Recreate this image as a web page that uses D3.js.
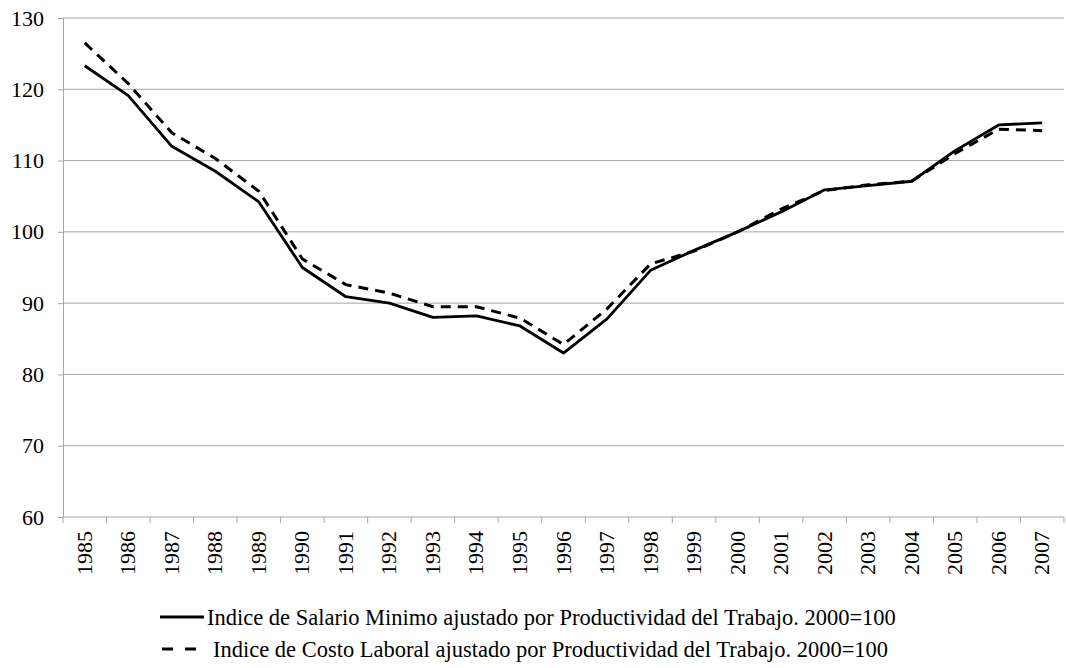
<!DOCTYPE html>
<html>
<head>
<meta charset="utf-8">
<script src="https://cdn.jsdelivr.net/npm/d3@7"></script>
<style>
  body { margin: 0; background: #fff; }
  text { font-family: "Liberation Serif", "Times New Roman", serif; fill: #000; }
</style>
</head>
<body>
<div id="chart"></div>
<script>
// data
var years = ["1985","1986","1987","1988","1989","1990","1991","1992","1993","1994","1995","1996",
             "1997","1998","1999","2000","2001","2002","2003","2004","2005","2006","2007"];
var salarioMinimo = [123.3,119.1,112.0,108.5,104.2,95.0,90.9,90.0,88.0,88.2,86.8,83.0,
                     87.8,94.6,97.4,100.0,102.8,105.9,106.5,107.1,111.4,115.0,115.3];
var costoLaboral  = [126.5,120.8,113.9,110.3,105.7,96.2,92.6,91.4,89.5,89.5,87.9,84.2,
                     89.2,95.5,97.3,100.0,103.2,105.8,106.6,107.1,111.0,114.4,114.2];
var yTicks = [60,70,80,90,100,110,120,130];
var legendLabels = ["Indice de Salario Minimo ajustado por Productividad del Trabajo. 2000=100",
                    "Indice de Costo Laboral ajustado por Productividad del Trabajo. 2000=100"];

var margin = {top: 18, right: 2, bottom: 151, left: 63},
    width = 1066 - margin.left - margin.right,
    height = 668 - margin.top - margin.bottom;

var svg = d3.select("#chart")
  .append("svg")
    .attr("width", 1066)
    .attr("height", 668);

var chart = svg.append("g")
    .attr("transform", "translate(" + margin.left + "," + margin.top + ")");

var x = d3.scaleBand()
    .domain(years)
    .range([0, width]);

var y = d3.scaleLinear()
    .domain([60, 130])
    .range([height, 0]);

// gridlines
chart.append("g")
  .selectAll("line")
  .data(yTicks.slice(1))
  .enter()
  .append("line")
    .attr("x1", 0)
    .attr("x2", width)
    .attr("y1", function(d) { return y(d); })
    .attr("y2", function(d) { return y(d); })
    .attr("stroke", "#a6a6a6")
    .attr("stroke-width", 1);

// Y axis
var yAxis = chart.append("g")
    .call(d3.axisLeft(y).tickValues(yTicks).tickSize(5).tickPadding(14).tickFormat(d3.format("d")));
yAxis.select(".domain").attr("stroke", "#a6a6a6");
yAxis.selectAll(".tick line").attr("stroke", "#a6a6a6");
yAxis.selectAll(".tick text")
    .style("font-size", "22px");

// X axis: ticks between categories
var xAxis = chart.append("g")
    .attr("transform", "translate(0," + height + ")");
xAxis.append("line")
    .attr("x1", 0).attr("x2", width)
    .attr("stroke", "#a6a6a6");
var bounds = years.map(function(d) { return x(d); }).concat([width]);
xAxis.selectAll(".bt")
  .data(bounds)
  .enter()
  .append("line")
    .attr("x1", function(d) { return d; })
    .attr("x2", function(d) { return d; })
    .attr("y1", 0).attr("y2", 6)
    .attr("stroke", "#a6a6a6");
xAxis.selectAll(".yl")
  .data(years)
  .enter()
  .append("text")
    .attr("transform", function(d) {
      return "translate(" + (x(d) + x.bandwidth() / 2 + 7) + ",14) rotate(-90)";
    })
    .attr("text-anchor", "end")
    .style("font-size", "22px")
    .text(function(d) { return d; });

// lines
var line = d3.line()
    .x(function(d, i) { return x(years[i]) + x.bandwidth() / 2; })
    .y(function(d) { return y(d); });

chart.append("path")
    .datum(costoLaboral)
    .attr("fill", "none")
    .attr("stroke", "#000")
    .attr("stroke-width", 3)
    .attr("stroke-dasharray", "10,7")
    .attr("d", line);

chart.append("path")
    .datum(salarioMinimo)
    .attr("fill", "none")
    .attr("stroke", "#000")
    .attr("stroke-width", 2.8)
    .attr("stroke-linejoin", "round")
    .attr("d", line);

// legend
var legend = svg.append("g");
legend.append("line")
    .attr("x1", 160).attr("x2", 204)
    .attr("y1", 617).attr("y2", 617)
    .attr("stroke", "#000").attr("stroke-width", 3);
legend.append("text")
    .attr("x", 207).attr("y", 625)
    .style("font-size", "22.5px")
    .text(legendLabels[0]);
legend.append("line")
    .attr("x1", 162).attr("x2", 197)
    .attr("y1", 649).attr("y2", 649)
    .attr("stroke", "#000").attr("stroke-width", 3)
    .attr("stroke-dasharray", "11,12");
legend.append("text")
    .attr("x", 213).attr("y", 657)
    .style("font-size", "22.5px")
    .text(legendLabels[1]);
</script>
</body>
</html>
